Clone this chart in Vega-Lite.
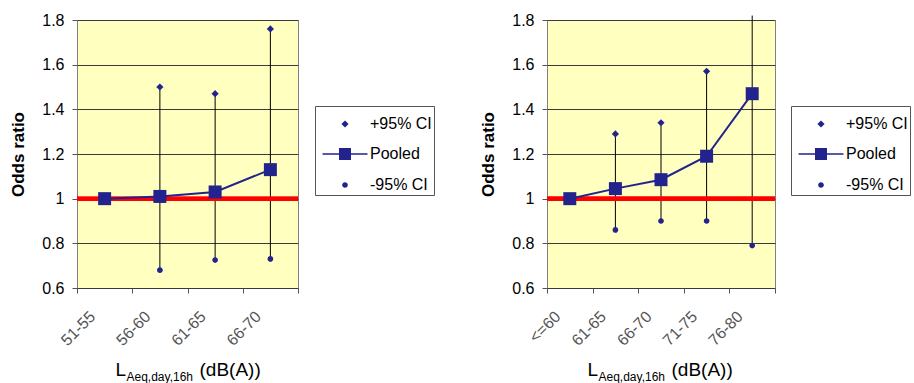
{
  "$schema": "https://vega.github.io/schema/vega-lite/v6.json",
  "padding": {"left": 9, "top": 11, "right": 0, "bottom": 0},
  "datasets": {
    "left": [
      {"cat": "51-55", "or": 1.0, "lo": null, "hi": null},
      {"cat": "56-60", "or": 1.01, "lo": 0.68, "hi": 1.5},
      {"cat": "61-65", "or": 1.03, "lo": 0.725, "hi": 1.47},
      {"cat": "66-70", "or": 1.13, "lo": 0.73, "hi": 1.76}
    ],
    "right": [
      {"cat": "<=60", "or": 1.0, "lo": null, "hi": null},
      {"cat": "61-65", "or": 1.045, "lo": 0.86, "hi": 1.29},
      {"cat": "66-70", "or": 1.085, "lo": 0.9, "hi": 1.34},
      {"cat": "71-75", "or": 1.19, "lo": 0.9, "hi": 1.57},
      {"cat": "76-80", "or": 1.47, "lo": 0.79, "hi": 1.82}
    ]
  },
  "hconcat": [
    {
      "width": 221,
      "height": 268,
      "data": {"name": "left"},
      "layer": [
        {
          "transform": [{"filter": "datum.lo != null"}],
          "mark": {"type": "rule", "color": "black", "strokeWidth": 1},
          "encoding": {
            "x": {"field": "cat", "type": "nominal", "scale": {"domain": ["51-55", "56-60", "61-65", "66-70"], "paddingInner": 0, "paddingOuter": 0}, "axis": null},
            "y": {"field": "lo", "type": "quantitative", "scale": {"domain": [0.6, 1.8], "nice": false, "zero": false}, "title": "Odds ratio"},
            "y2": {"field": "hi"}
          }
        },
        {
          "mark": {"type": "rule", "color": "#FF0000", "strokeWidth": 4},
          "encoding": {"y": {"datum": 1, "type": "quantitative"}}
        },
        {
          "mark": {"type": "line", "color": "#23238E", "strokeWidth": 2},
          "encoding": {
            "x": {"field": "cat", "type": "nominal", "scale": {"domain": ["51-55", "56-60", "61-65", "66-70"], "paddingInner": 0, "paddingOuter": 0},
              "axis": {"orient": "bottom", "title": "L", "titleFontSize": 19, "titleFontWeight": "normal", "titleColor": "black", "titleAlign": "left", "titleBaseline": "alphabetic", "titleX": 38, "titleY": 87, "labelAngle": -45, "labelFontSize": 16, "labelColor": "#555555", "labelOffset": -18, "labelPadding": 15, "tickBand": "extent", "tickSize": 5, "tickColor": "#555555", "domain": false, "grid": false}},
            "y": {"field": "or", "type": "quantitative", "title": "Odds ratio"}
          }
        },
        {
          "mark": {"type": "point", "shape": "square", "filled": true, "opacity": 1, "size": 169, "color": "#23238E"},
          "encoding": {
            "x": {"field": "cat", "type": "nominal", "scale": {"domain": ["51-55", "56-60", "61-65", "66-70"], "paddingInner": 0, "paddingOuter": 0},
              "axis": {"orient": "bottom", "title": "Aeq,day,16h", "titleFontSize": 12, "titleFontWeight": "normal", "titleColor": "black", "titleAlign": "left", "titleBaseline": "alphabetic", "titleX": 49, "titleY": 92, "labels": false, "ticks": false, "domain": false, "grid": false}},
            "y": {"field": "or", "type": "quantitative", "title": "Odds ratio"}
          }
        },
        {
          "transform": [{"filter": "datum.hi != null && datum.hi <= 1.8"}],
          "mark": {"type": "point", "filled": true, "opacity": 1, "size": 900, "color": "#23238E"},
          "encoding": {
            "x": {"field": "cat", "type": "nominal", "scale": {"domain": ["51-55", "56-60", "61-65", "66-70"], "paddingInner": 0, "paddingOuter": 0},
              "axis": {"orient": "bottom", "title": "(dB(A))", "titleFontSize": 19, "titleFontWeight": "normal", "titleColor": "black", "titleAlign": "left", "titleBaseline": "alphabetic", "titleX": 122, "titleY": 87, "labels": false, "ticks": false, "domain": false, "grid": false}},
            "y": {"field": "hi", "type": "quantitative", "title": "Odds ratio"},
            "shape": {"datum": "+95% CI", "scale": {"domain": ["+95% CI", "Pooled", "-95% CI"], "range": ["M0,-0.24L0.24,0L0,0.24L-0.24,0Z", "M-1.5,-0.055H-0.4V0.055H-1.5ZM0.4,-0.055H1.5V0.055H0.4ZM-0.4,-0.4H0.4V0.4H-0.4Z", "M0.19,0A0.19,0.19 0 1 1 -0.19,0A0.19,0.19 0 1 1 0.19,0Z"]},
              "legend": {"title": null, "orient": "none", "legendX": 238, "legendY": 86, "symbolSize": 900, "labelFontSize": 16, "labelColor": "black", "strokeColor": "#555555", "padding": 2, "rowPadding": 6, "symbolOffset": 12, "labelOffset": 9,
                "encode": {"symbols": {"fill": {"value": "#23238E"}, "opacity": {"value": 1}}}}}
          }
        },
        {
          "transform": [{"filter": "datum.lo != null"}],
          "mark": {"type": "point", "filled": true, "opacity": 1, "size": 900, "color": "#23238E"},
          "encoding": {
            "x": {"field": "cat", "type": "nominal", "scale": {"domain": ["51-55", "56-60", "61-65", "66-70"], "paddingInner": 0, "paddingOuter": 0}, "axis": null},
            "y": {"field": "lo", "type": "quantitative", "title": "Odds ratio"},
            "shape": {"datum": "-95% CI", "scale": {"domain": ["+95% CI", "Pooled", "-95% CI"], "range": ["M0,-0.24L0.24,0L0,0.24L-0.24,0Z", "M-1.5,-0.055H-0.4V0.055H-1.5ZM0.4,-0.055H1.5V0.055H0.4ZM-0.4,-0.4H0.4V0.4H-0.4Z", "M0.19,0A0.19,0.19 0 1 1 -0.19,0A0.19,0.19 0 1 1 0.19,0Z"]},
              "legend": {"title": null, "orient": "none", "legendX": 238, "legendY": 86, "symbolSize": 900, "labelFontSize": 16, "labelColor": "black", "strokeColor": "#555555", "padding": 2, "rowPadding": 6, "symbolOffset": 12, "labelOffset": 9,
                "encode": {"symbols": {"fill": {"value": "#23238E"}, "opacity": {"value": 1}}}}}
          }
        }
      ],
      "resolve": {"axis": {"x": "independent"}}
    },
    {
      "width": 228,
      "height": 268,
      "data": {"name": "right"},
      "layer": [
        {
          "transform": [{"filter": "datum.lo != null"}],
          "mark": {"type": "rule", "color": "black", "strokeWidth": 1},
          "encoding": {
            "x": {"field": "cat", "type": "nominal", "scale": {"domain": ["<=60", "61-65", "66-70", "71-75", "76-80"], "paddingInner": 0, "paddingOuter": 0}, "axis": null},
            "y": {"field": "lo", "type": "quantitative", "scale": {"domain": [0.6, 1.8], "nice": false, "zero": false}, "title": "Odds ratio"},
            "y2": {"field": "hi"}
          }
        },
        {
          "mark": {"type": "rule", "color": "#FF0000", "strokeWidth": 4},
          "encoding": {"y": {"datum": 1, "type": "quantitative"}}
        },
        {
          "mark": {"type": "line", "color": "#23238E", "strokeWidth": 2},
          "encoding": {
            "x": {"field": "cat", "type": "nominal", "scale": {"domain": ["<=60", "61-65", "66-70", "71-75", "76-80"], "paddingInner": 0, "paddingOuter": 0},
              "axis": {"orient": "bottom", "title": "L", "titleFontSize": 19, "titleFontWeight": "normal", "titleColor": "black", "titleAlign": "left", "titleBaseline": "alphabetic", "titleX": 40, "titleY": 87, "labelAngle": -45, "labelFontSize": 16, "labelColor": "#555555", "labelOffset": -18, "labelPadding": 15, "tickBand": "extent", "tickSize": 5, "tickColor": "#555555", "domain": false, "grid": false}},
            "y": {"field": "or", "type": "quantitative", "title": "Odds ratio"}
          }
        },
        {
          "mark": {"type": "point", "shape": "square", "filled": true, "opacity": 1, "size": 169, "color": "#23238E"},
          "encoding": {
            "x": {"field": "cat", "type": "nominal", "scale": {"domain": ["<=60", "61-65", "66-70", "71-75", "76-80"], "paddingInner": 0, "paddingOuter": 0},
              "axis": {"orient": "bottom", "title": "Aeq,day,16h", "titleFontSize": 12, "titleFontWeight": "normal", "titleColor": "black", "titleAlign": "left", "titleBaseline": "alphabetic", "titleX": 51, "titleY": 92, "labels": false, "ticks": false, "domain": false, "grid": false}},
            "y": {"field": "or", "type": "quantitative", "title": "Odds ratio"}
          }
        },
        {
          "transform": [{"filter": "datum.hi != null && datum.hi <= 1.8"}],
          "mark": {"type": "point", "filled": true, "opacity": 1, "size": 900, "color": "#23238E"},
          "encoding": {
            "x": {"field": "cat", "type": "nominal", "scale": {"domain": ["<=60", "61-65", "66-70", "71-75", "76-80"], "paddingInner": 0, "paddingOuter": 0},
              "axis": {"orient": "bottom", "title": "(dB(A))", "titleFontSize": 19, "titleFontWeight": "normal", "titleColor": "black", "titleAlign": "left", "titleBaseline": "alphabetic", "titleX": 124, "titleY": 87, "labels": false, "ticks": false, "domain": false, "grid": false}},
            "y": {"field": "hi", "type": "quantitative", "title": "Odds ratio"},
            "shape": {"datum": "+95% CI", "scale": {"domain": ["+95% CI", "Pooled", "-95% CI"], "range": ["M0,-0.24L0.24,0L0,0.24L-0.24,0Z", "M-1.5,-0.055H-0.4V0.055H-1.5ZM0.4,-0.055H1.5V0.055H0.4ZM-0.4,-0.4H0.4V0.4H-0.4Z", "M0.19,0A0.19,0.19 0 1 1 -0.19,0A0.19,0.19 0 1 1 0.19,0Z"]},
              "legend": {"title": null, "orient": "none", "legendX": 244, "legendY": 86, "symbolSize": 900, "labelFontSize": 16, "labelColor": "black", "strokeColor": "#555555", "padding": 2, "rowPadding": 6, "symbolOffset": 12, "labelOffset": 9,
                "encode": {"symbols": {"fill": {"value": "#23238E"}, "opacity": {"value": 1}}}}}
          }
        },
        {
          "transform": [{"filter": "datum.lo != null"}],
          "mark": {"type": "point", "filled": true, "opacity": 1, "size": 900, "color": "#23238E"},
          "encoding": {
            "x": {"field": "cat", "type": "nominal", "scale": {"domain": ["<=60", "61-65", "66-70", "71-75", "76-80"], "paddingInner": 0, "paddingOuter": 0}, "axis": null},
            "y": {"field": "lo", "type": "quantitative", "title": "Odds ratio"},
            "shape": {"datum": "-95% CI", "scale": {"domain": ["+95% CI", "Pooled", "-95% CI"], "range": ["M0,-0.24L0.24,0L0,0.24L-0.24,0Z", "M-1.5,-0.055H-0.4V0.055H-1.5ZM0.4,-0.055H1.5V0.055H0.4ZM-0.4,-0.4H0.4V0.4H-0.4Z", "M0.19,0A0.19,0.19 0 1 1 -0.19,0A0.19,0.19 0 1 1 0.19,0Z"]},
              "legend": {"title": null, "orient": "none", "legendX": 244, "legendY": 86, "symbolSize": 900, "labelFontSize": 16, "labelColor": "black", "strokeColor": "#555555", "padding": 2, "rowPadding": 6, "symbolOffset": 12, "labelOffset": 9,
                "encode": {"symbols": {"fill": {"value": "#23238E"}, "opacity": {"value": 1}}}}}
          }
        }
      ],
      "resolve": {"axis": {"x": "independent"}}
    }
  ],
  "spacing": 44,
  "resolve": {"scale": {"shape": "independent"}, "legend": {"shape": "independent"}},
  "config": {
    "font": "Liberation Sans",
    "view": {"fill": "#FFFFBF", "stroke": "#808080"},
    "axisY": {"values": [0.6, 0.8, 1, 1.2, 1.4, 1.6, 1.8], "format": "~g", "grid": true, "gridColor": "#3a3a3a", "gridWidth": 1, "domain": false, "tickColor": "#555555", "tickSize": 5, "labelFontSize": 16, "labelColor": "black", "labelPadding": 8, "titleFontSize": 17, "titleFontWeight": "bold", "titleColor": "black", "titlePadding": 14},
    "legend": {"labelFont": "Liberation Sans"}
  }
}
